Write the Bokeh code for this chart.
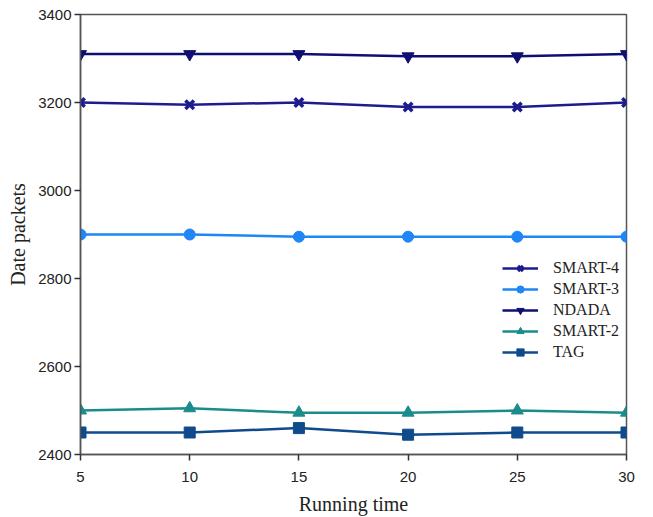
from bokeh.plotting import figure
from bokeh.models import Range1d, FixedTicker, Legend, LegendItem
from bokeh.embed import file_html
from bokeh.resources import INLINE

running_time = [5, 10, 15, 20, 25, 30]
smart4 = [3200, 3195, 3200, 3190, 3190, 3200]
smart3 = [2900, 2900, 2895, 2895, 2895, 2895]
ndada = [3310, 3310, 3310, 3305, 3305, 3310]
smart2 = [2500, 2505, 2495, 2495, 2500, 2495]
tag = [2450, 2450, 2460, 2445, 2450, 2450]

series = [
    ("SMART-4", smart4, "#1c1c8f", "x", 12),
    ("SMART-3", smart3, "#1f86f5", "circle", 11),
    ("NDADA", ndada, "#0f0f72", "inverted_triangle", 12),
    ("SMART-2", smart2, "#1a8c8c", "triangle", 12),
    ("TAG", tag, "#0f4a8c", "square", 11),
]

p = figure(width=653, height=517, output_backend="svg", toolbar_location=None,
           x_range=Range1d(5, 30), y_range=Range1d(2400, 3400),
           min_border_left=80, min_border_right=27, min_border_top=14, min_border_bottom=63)

items = []
for name, vals, color, marker, size in series:
    r1 = p.line(running_time, vals, line_color=color, line_width=2.5)
    if marker == "x":
        r2 = p.scatter(running_time, vals, marker="x", size=size, line_color=color, line_width=3.5)
    else:
        r2 = p.scatter(running_time, vals, marker=marker, size=size, fill_color=color, line_color=color)
    items.append(LegendItem(label=name, renderers=[r1, r2]))

legend = Legend(items=items, location=(422, 93), border_line_color=None,
                background_fill_alpha=0, label_text_font="Liberation Serif",
                label_text_font_size="16px", label_text_color="#222222",
                glyph_width=36, glyph_height=18, label_height=18, spacing=3,
                label_standoff=15, padding=5, margin=0)
p.add_layout(legend, "center")

p.xgrid.visible = False
p.ygrid.visible = False
p.outline_line_color = "#555555"
p.outline_line_width = 1.5

p.xaxis.ticker = FixedTicker(ticks=running_time)
p.yaxis.ticker = FixedTicker(ticks=[2400, 2600, 2800, 3000, 3200, 3400])
for ax in (p.xaxis, p.yaxis):
    ax.axis_line_color = "#555555"
    ax.axis_line_width = 1.5
    ax.major_tick_line_color = "#333333"
    ax.major_tick_line_width = 1.5
    ax.major_tick_out = 6
    ax.major_tick_in = 0
    ax.minor_tick_line_color = None
    ax.major_label_text_font = "Liberation Sans"
    ax.major_label_text_font_size = "15px"
    ax.major_label_text_color = "#222222"
    ax.axis_label_text_font = "Liberation Serif"
    ax.axis_label_text_font_size = "20px"
    ax.axis_label_text_font_style = "normal"
    ax.axis_label_text_color = "#222222"

p.xaxis.axis_label = "Running time"
p.yaxis.axis_label = "Date packets"
p.xaxis.major_label_standoff = 11
p.xaxis.axis_label_standoff = 8
p.yaxis.major_label_standoff = 3
p.yaxis.axis_label_standoff = 6

open("out.html", "w").write(file_html(p, INLINE))
